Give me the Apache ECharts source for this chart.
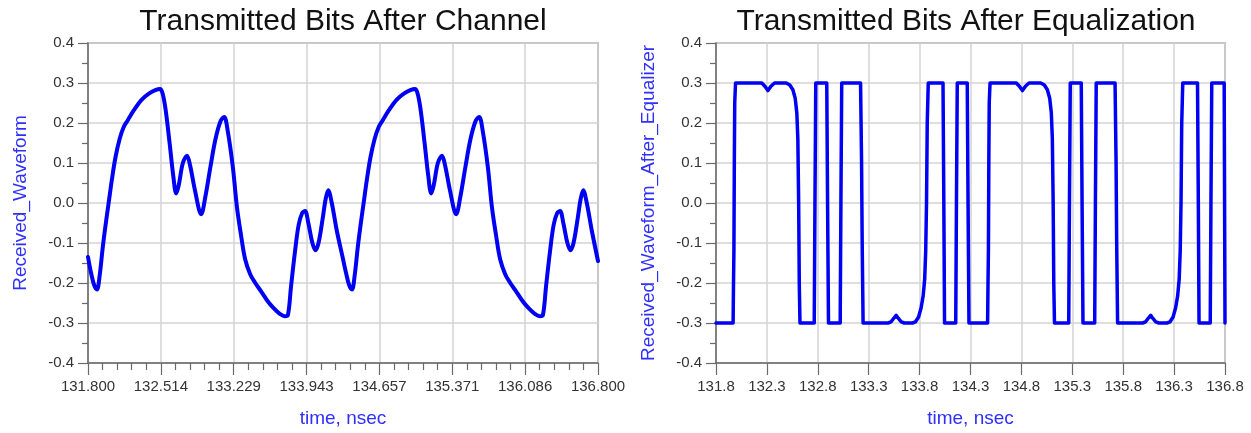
<!DOCTYPE html>
<html>
<head>
<meta charset="utf-8">
<script src="https://cdn.jsdelivr.net/npm/echarts@6/dist/echarts.min.js"></script>
<style>
html,body{margin:0;padding:0;background:#fff;}
#c{width:1251px;height:433px;}
</style>
</head>
<body>
<div id="c"></div>
<script>
// ---- Data ----
const leftTitle = 'Transmitted Bits After Channel';
const rightTitle = 'Transmitted Bits After Equalization';
const leftYName = 'Received_Waveform';
const rightYName = 'Received_Waveform_After_Equalizer';
const xName = 'time, nsec';

const leftXTickLabels = ['131.800','132.514','133.229','133.943','134.657','135.371','136.086','136.800'];
const rightXTickLabels = ['131.8','132.3','132.8','133.3','133.8','134.3','134.8','135.3','135.8','136.3','136.8'];
const yTickLabels = ['-0.4','-0.3','-0.2','-0.1','0.0','0.1','0.2','0.3','0.4'];

const channelTime = [
131.800,131.830,131.860,131.888,131.915,131.945,131.975,132.005,132.035,132.070,
132.110,132.150,132.190,132.250,132.325,132.400,132.460,132.505,132.530,132.560,
132.600,132.635,132.665,132.690,132.730,132.770,132.800,132.850,132.910,132.950,
133.000,133.050,133.100,133.135,133.170,133.220,133.260,133.300,133.340,133.390,
133.440,133.500,133.560,133.620,133.680,133.730,133.760,133.790,133.830,133.865,
133.900,133.928,133.960,134.000,134.030,134.060,134.100,134.130,134.155,134.190,
134.240,134.300,134.330,134.360,134.388,
134.415,134.445,134.475,134.505,134.535,134.570,134.610,134.650,134.690,134.750,
134.825,134.900,134.960,135.005,135.030,135.060,135.100,135.135,135.165,135.190,
135.230,135.270,135.300,135.350,135.410,135.450,135.500,135.550,135.600,135.635,
135.670,135.720,135.760,135.800,135.840,135.890,135.940,136.000,136.060,136.120,
136.180,136.230,136.260,136.290,136.330,136.365,136.400,136.428,136.460,136.500,
136.530,136.560,136.600,136.630,136.655,136.690,136.740,136.800
];
const channelValue = [
-0.135,-0.175,-0.205,-0.216,-0.180,-0.110,-0.050,0.005,0.060,0.115,
0.160,0.190,0.207,0.232,0.258,0.274,0.282,0.285,0.275,0.235,
0.150,0.070,0.024,0.045,0.100,0.118,0.095,0.030,-0.028,0.015,
0.090,0.160,0.205,0.215,0.180,0.090,-0.010,-0.080,-0.140,-0.178,
-0.200,-0.222,-0.245,-0.263,-0.277,-0.283,-0.280,-0.210,-0.120,-0.055,
-0.025,-0.020,-0.050,-0.100,-0.118,-0.100,-0.040,0.010,0.032,0.000,
-0.070,-0.140,-0.175,-0.205,-0.216,
-0.180,-0.110,-0.050,0.005,0.060,0.115,0.160,0.190,0.207,0.232,
0.258,0.274,0.282,0.285,0.275,0.235,0.150,0.070,0.024,0.045,
0.100,0.118,0.095,0.030,-0.028,0.015,0.090,0.160,0.205,0.215,
0.180,0.090,-0.010,-0.080,-0.140,-0.178,-0.200,-0.222,-0.245,-0.263,
-0.277,-0.283,-0.280,-0.210,-0.120,-0.055,-0.025,-0.020,-0.050,-0.100,
-0.118,-0.100,-0.040,0.010,0.032,0.000,-0.070,-0.145
];

const eqTime = [
131.800,131.968,131.972,131.976,131.980,131.984,131.992,132.250,132.280,132.310,
132.340,132.375,132.490,132.525,132.555,132.578,132.594,132.604,132.612,132.618,
132.625,132.765,132.772,132.780,132.888,132.896,132.905,133.020,133.027,133.035,
133.220,133.230,133.236,133.245,133.490,133.520,133.550,133.570,133.590,133.620,
133.650,133.730,133.760,133.790,133.815,133.835,133.850,133.860,133.868,133.875,
133.885,134.030,134.038,134.045,134.155,134.162,134.170,134.268,134.276,134.285,
134.468,
134.472,134.476,134.480,134.484,134.492,134.750,134.780,134.810,134.840,134.875,
134.990,135.025,135.055,135.078,135.094,135.104,135.112,135.118,135.125,135.265,
135.272,135.280,135.388,135.396,135.405,135.520,135.527,135.535,135.720,135.730,
135.736,135.745,135.990,136.020,136.050,136.070,136.090,136.120,136.150,136.230,
136.260,136.290,136.315,136.335,136.350,136.360,136.368,136.375,136.385,136.530,
136.538,136.545,136.655,136.662,136.670,136.792,136.796,136.800
];
const eqValue = [
-0.300,-0.300,-0.200,-0.120,0.100,0.250,0.300,0.300,0.292,0.281,
0.292,0.300,0.300,0.295,0.283,0.262,0.225,0.160,0.000,-0.200,
-0.300,-0.300,0.000,0.300,0.300,0.000,-0.300,-0.300,0.000,0.300,
0.300,0.100,-0.100,-0.300,-0.300,-0.297,-0.287,-0.281,-0.288,-0.297,
-0.300,-0.300,-0.297,-0.285,-0.262,-0.232,-0.190,-0.120,0.000,0.200,
0.300,0.300,0.000,-0.300,-0.300,0.000,0.300,0.300,0.000,-0.300,
-0.300,
-0.200,-0.120,0.100,0.250,0.300,0.300,0.292,0.281,0.292,0.300,
0.300,0.295,0.283,0.262,0.225,0.160,0.000,-0.200,-0.300,-0.300,
0.000,0.300,0.300,0.000,-0.300,-0.300,0.000,0.300,0.300,0.100,
-0.100,-0.300,-0.300,-0.297,-0.287,-0.281,-0.288,-0.297,-0.300,-0.300,
-0.297,-0.285,-0.262,-0.232,-0.190,-0.120,0.000,0.200,0.300,0.300,
0.000,-0.300,-0.300,0.000,0.300,0.300,0.000,-0.300
];

// ---- Chart ----
const FONT = '"Liberation Sans", Arial, sans-serif';
const X_MIN = 131.8, X_MAX = 136.8;
const LEFT_INT = (X_MAX - X_MIN) / 7;
const RIGHT_INT = 0.5;
const Y_MIN = -0.4, Y_MAX = 0.4, Y_INT = 0.1;
const AXIS_COLOR = '#6a6a6a';
const GRID_COLOR = '#d3d3d3';
const NAME_COLOR = '#2f2fff';
const LINE_COLOR = '#0000f2';

function pairs(xs, ys) { return xs.map((x, i) => [x, ys[i]]); }

function xAxisCfg(gridIndex, interval, labels, minor) {
  return {
    type: 'value', gridIndex, min: X_MIN, max: X_MAX, interval,
    name: xName, nameLocation: 'middle', nameGap: 46,
    nameTextStyle: { color: NAME_COLOR, fontSize: 19, fontFamily: FONT },
    axisLine: { show: true, onZero: false, lineStyle: { color: AXIS_COLOR, width: 1.5 } },
    axisTick: { show: true, length: 12, lineStyle: { color: AXIS_COLOR, width: 1.2 } },
    minorTick: { show: minor, splitNumber: 5, length: 7, lineStyle: { color: AXIS_COLOR, width: 1.2 } },
    splitLine: { show: true, lineStyle: { color: GRID_COLOR, width: 1.5 } },
    axisLabel: {
      margin: 16, fontSize: 15, color: '#333', fontFamily: FONT,
      formatter: v => labels[Math.round((v - X_MIN) / interval)] || ''
    }
  };
}
function yAxisCfg(gridIndex, name) {
  return {
    type: 'value', gridIndex, min: Y_MIN, max: Y_MAX, interval: Y_INT,
    name, nameLocation: 'middle', nameGap: 58,
    nameTextStyle: { color: NAME_COLOR, fontSize: 19, fontFamily: FONT },
    axisLine: { show: true, onZero: false, lineStyle: { color: AXIS_COLOR, width: 1.5 } },
    axisTick: { show: true, length: 10, lineStyle: { color: AXIS_COLOR, width: 1.2 } },
    minorTick: { show: true, splitNumber: 2, length: 6, lineStyle: { color: AXIS_COLOR, width: 1.2 } },
    splitLine: { show: true, lineStyle: { color: GRID_COLOR, width: 1.5 } },
    axisLabel: {
      margin: 14, fontSize: 15, color: '#333', fontFamily: FONT,
      formatter: v => yTickLabels[Math.round((v - Y_MIN) / Y_INT)] || ''
    }
  };
}

const chart = echarts.init(document.getElementById('c'), null, { renderer: 'canvas' });
chart.setOption({
  animation: false,
  backgroundColor: '#fff',
  title: [
    { text: leftTitle, left: 343, top: 7, padding: 0, textAlign: 'center',
      textStyle: { fontSize: 30, fontWeight: 'normal', color: '#111', fontFamily: FONT } },
    { text: rightTitle, left: 966, top: 7, padding: 0, textAlign: 'center',
      textStyle: { fontSize: 30, fontWeight: 'normal', color: '#111', fontFamily: FONT } }
  ],
  grid: [
    { left: 88, top: 43, width: 510, height: 322, show: true, borderColor: '#8a8a8a', borderWidth: 1.5, backgroundColor: '#fff' },
    { left: 716, top: 43, width: 509, height: 322, show: true, borderColor: '#8a8a8a', borderWidth: 1.5, backgroundColor: '#fff' }
  ],
  xAxis: [
    xAxisCfg(0, LEFT_INT, leftXTickLabels, true),
    xAxisCfg(1, RIGHT_INT, rightXTickLabels, false)
  ],
  yAxis: [
    yAxisCfg(0, leftYName),
    yAxisCfg(1, rightYName)
  ],
  series: [
    { type: 'line', xAxisIndex: 0, yAxisIndex: 0, data: pairs(channelTime, channelValue),
      showSymbol: false, smooth: 0.35,
      lineStyle: { color: LINE_COLOR, width: 4, join: 'round', cap: 'round' } },
    { type: 'line', xAxisIndex: 1, yAxisIndex: 1, data: pairs(eqTime, eqValue),
      showSymbol: false, smooth: false,
      lineStyle: { color: LINE_COLOR, width: 3.5, join: 'round', cap: 'round' } }
  ]
});
</script>
</body>
</html>
